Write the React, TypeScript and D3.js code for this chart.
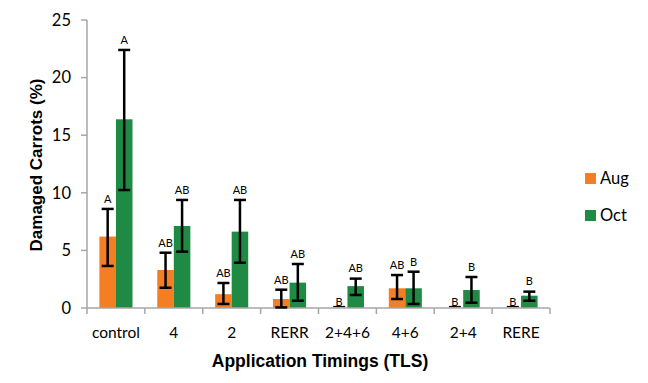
import React from "react";
import * as d3 from "d3";

const categories = ["control", "4", "2", "RERR", "2+4+6", "4+6", "2+4", "RERE"];
const series = ["Aug", "Oct"];
const augValues = [6.2, 3.3, 1.2, 0.78, 0, 1.71, 0, 0];
const augErrHigh = [8.6, 4.8, 2.17, 1.59, 0, 2.86, 0, 0];
const augErrLow = [3.65, 1.76, 0.35, 0.05, 0, 0.78, 0, 0];
const octValues = [16.38, 7.12, 6.63, 2.2, 1.9, 1.71, 1.56, 1.07];
const octErrHigh = [22.4, 9.38, 9.38, 3.82, 2.55, 3.15, 2.69, 1.42];
const octErrLow = [10.24, 4.89, 3.93, 0.63, 1.13, 0.35, 0.46, 0.63];
const augLetters = ["A", "AB", "AB", "AB", "B", "AB", "B", "B"];
const octLetters = ["A", "AB", "AB", "AB", "AB", "B", "B", "B"];
const yTicks = [0, 5, 10, 15, 20, 25];

const colors: Record<string, string> = { Aug: "#F47E23", Oct: "#1E8A43" };
const axisColor = "#A6A6A6";
const W = 648, H = 383;
const left = 87, right = 550, top = 20, bottom = 308;

export default function App() {
  const x = d3.scaleBand<string>().domain(categories).range([left, right]).paddingInner(0).paddingOuter(0);
  const y = d3.scaleLinear().domain([0, 25]).range([bottom, top]);
  const sub = d3.scaleBand<string>().domain(series).range([0, x.bandwidth()]).paddingInner(0).paddingOuter(0.75);

  const data = [
    { s: "Aug", vals: augValues, hi: augErrHigh, lo: augErrLow, letters: augLetters },
    { s: "Oct", vals: octValues, hi: octErrHigh, lo: octErrLow, letters: octLetters },
  ];
  const capW = 12;
  const boundaries = categories.map((c) => x(c)!).concat([right]);

  return (
    <svg width={W} height={H} style={{ position: "absolute", left: 0, top: 0 }} xmlns="http://www.w3.org/2000/svg">
      <rect width={W} height={H} fill="#fff" />
      {data.map((d) =>
        categories.map((c, i) => {
          const bx = x(c)! + sub(d.s)!;
          const bw = sub.bandwidth();
          return (
            <g key={d.s + c}>
              {d.vals[i] > 0 && (
                <rect x={bx} y={y(d.vals[i])} width={bw} height={y(0) - y(d.vals[i])} fill={colors[d.s]} />
              )}
            </g>
          );
        })
      )}
      {/* axes */}
      <line x1={left} x2={left} y1={top} y2={bottom} stroke={axisColor} strokeWidth={1.5} />
      <line x1={left} x2={right} y1={bottom} y2={bottom} stroke={axisColor} strokeWidth={1.5} />
      {yTicks.map((t) => (
        <g key={t}>
          <line x1={left - 6} x2={left} y1={y(t)} y2={y(t)} stroke={axisColor} strokeWidth={1.5} />
          <text x={left - 16} y={y(t)} dy="0.35em" textAnchor="end" fontFamily="Lato" fontSize={16.5} fill="#000">
            {t}
          </text>
        </g>
      ))}
      {boundaries.map((b, i) => (
        <line key={i} x1={b} x2={b} y1={bottom} y2={bottom + 6} stroke={axisColor} strokeWidth={1.5} />
      ))}
      {categories.map((c) => (
        <text key={c} x={x(c)! + x.bandwidth() / 2} y={338} textAnchor="middle" fontFamily="Lato" fontSize={15.5} fill="#000">
          {c}
        </text>
      ))}
      {/* error bars and letters */}
      {data.map((d) =>
        categories.map((c, i) => {
          const cx = x(c)! + sub(d.s)! + sub.bandwidth() / 2;
          const yh = y(d.hi[i]);
          const yl = y(d.lo[i]);
          const zero = d.vals[i] === 0;
          return (
            <g key={"e" + d.s + c}>
              {!zero && <line x1={cx} x2={cx} y1={yh} y2={yl} stroke="#000" strokeWidth={2.5} />}
              <line x1={cx - capW / 2} x2={cx + capW / 2} y1={zero ? bottom - 1.5 : yh} y2={zero ? bottom - 1.5 : yh} stroke="#000" strokeWidth={zero ? 1.2 : 2.5} />
              {!zero && <line x1={cx - capW / 2} x2={cx + capW / 2} y1={yl} y2={yl} stroke="#000" strokeWidth={2.5} />}
              <text x={cx} y={(zero ? bottom : yh) - (zero ? 6 : 10)} dy="0.35em" textAnchor="middle" fontFamily="Lato" fontSize={11} fill="#000">
                {d.letters[i]}
              </text>
            </g>
          );
        })
      )}
      {/* legend */}
      {series.map((s, i) => (
        <g key={s} transform={`translate(585, ${173 + i * 37})`}>
          <rect x={0} y={0} width={11} height={11} fill={colors[s]} />
          <text x={15} y={5.5} dy="0.35em" fontFamily="Lato" fontSize={16.5} fill="#000">
            {s}
          </text>
        </g>
      ))}
      {/* axis titles */}
      <text x={320} y={361} dy="0.35em" textAnchor="middle" fontFamily="Liberation Sans" fontWeight="bold" fontSize={17.5} fill="#000">
        Application Timings (TLS)
      </text>
      <text transform={`translate(36, 165) rotate(-90)`} dy="0.35em" textAnchor="middle" fontFamily="Liberation Sans" fontWeight="bold" fontSize={17} fill="#000">
        Damaged Carrots (%)
      </text>
    </svg>
  );
}
